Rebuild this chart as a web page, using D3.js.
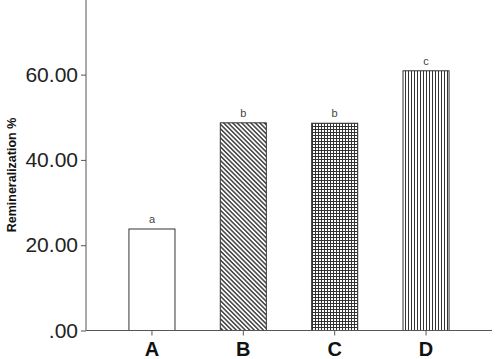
<!DOCTYPE html>
<html>
<head>
<meta charset="utf-8">
<script src="https://cdn.jsdelivr.net/npm/d3@7"></script>
<style>
  body { margin: 0; background: #fff; }
  svg { display: block; font-family: Arial, "Liberation Sans", sans-serif; }
</style>
</head>
<body>
<svg id="vis"></svg>
<script>
var groups = ["A", "B", "C", "D"];
var values = [23.8, 48.7, 48.6, 60.9];
var letters = ["a", "b", "b", "c"];
var yTicks = [0, 20, 40, 60];
var patterns = ["none", "diag", "grid", "vert"];

var width = 498, height = 359;
var plotLeft = 86, plotRight = 492, plotTop = 0, plotBottom = 330.5;

var svg = d3.select("#vis")
    .attr("width", width)
    .attr("height", height);

// hatch fills
var defs = svg.append("defs");

var diag = defs.append("pattern")
    .attr("id", "diag")
    .attr("patternUnits", "userSpaceOnUse")
    .attr("width", 3.2).attr("height", 3.2)
    .attr("patternTransform", "rotate(-45)");
diag.append("rect").attr("width", 3.2).attr("height", 3.2).attr("fill", "#fff");
diag.append("line").attr("x1", 0.8).attr("y1", 0).attr("x2", 0.8).attr("y2", 3.2)
    .attr("stroke", "#222").attr("stroke-width", 1.3);

var grid = defs.append("pattern")
    .attr("id", "grid")
    .attr("patternUnits", "userSpaceOnUse")
    .attr("width", 3).attr("height", 3);
grid.append("rect").attr("width", 3).attr("height", 3).attr("fill", "#fff");
grid.append("path").attr("d", "M0.5,0V3M0,0.5H3")
    .attr("stroke", "#333").attr("stroke-width", 1);

var vert = defs.append("pattern")
    .attr("id", "vert")
    .attr("patternUnits", "userSpaceOnUse")
    .attr("width", 3).attr("height", 3);
vert.append("rect").attr("width", 3).attr("height", 3).attr("fill", "#fff");
vert.append("line").attr("x1", 0.5).attr("y1", 0).attr("x2", 0.5).attr("y2", 3)
    .attr("stroke", "#333").attr("stroke-width", 1);

var x = d3.scaleBand()
    .domain(groups)
    .range([plotLeft, plotRight])
    .paddingInner(0.496)
    .paddingOuter(0.47);

var y = d3.scaleLinear()
    .domain([0, 77.5])
    .range([plotBottom, plotTop]);

// bars
svg.selectAll(".bar")
    .data(groups)
    .enter().append("rect")
    .attr("class", "bar")
    .attr("x", function (d) { return x(d); })
    .attr("y", function (d, i) { return y(values[i]); })
    .attr("width", x.bandwidth())
    .attr("height", function (d, i) { return y(0) - y(values[i]); })
    .attr("fill", function (d, i) {
        return patterns[i] == "none" ? "#fff" : "url(#" + patterns[i] + ")";
    })
    .attr("stroke", "#333")
    .attr("stroke-width", 1);

// significance letters
svg.selectAll(".sig")
    .data(groups)
    .enter().append("text")
    .attr("class", "sig")
    .attr("x", function (d) { return x(d) + x.bandwidth() / 2; })
    .attr("y", function (d, i) { return y(values[i]) - 6; })
    .attr("text-anchor", "middle")
    .style("font-size", "11px")
    .style("fill", "#444")
    .text(function (d, i) { return letters[i]; });

// y axis
var yAxis = d3.axisLeft(y)
    .tickValues(yTicks)
    .tickSize(5)
    .tickPadding(3)
    .tickFormat(function (d) { return d == 0 ? ".00" : d3.format(".2f")(d); });

var gy = svg.append("g")
    .attr("transform", "translate(" + plotLeft + ",0)")
    .call(yAxis);
gy.select(".domain").remove();
gy.append("line")
    .attr("x1", 0).attr("x2", 0)
    .attr("y1", plotTop).attr("y2", plotBottom)
    .attr("stroke", "#555");
gy.selectAll(".tick line").attr("stroke", "#555");
gy.selectAll(".tick text")
    .style("font-size", "21px")
    .style("fill", "#222")
    .attr("font-family", null);

// x axis
var xAxis = d3.axisBottom(x)
    .tickSize(5)
    .tickPadding(6);

var gx = svg.append("g")
    .attr("transform", "translate(0," + plotBottom + ")")
    .call(xAxis);
gx.select(".domain").remove();
gx.append("line")
    .attr("x1", plotLeft).attr("x2", plotRight)
    .attr("y1", 0).attr("y2", 0)
    .attr("stroke", "#555");
gx.selectAll(".tick line").attr("stroke", "#555");
gx.selectAll(".tick text")
    .style("font-size", "20px")
    .style("font-weight", "bold")
    .style("fill", "#111")
    .attr("font-family", null);

// y title
svg.append("text")
    .attr("transform", "translate(16,175) rotate(-90)")
    .attr("text-anchor", "middle")
    .style("font-size", "12.5px")
    .style("font-weight", "bold")
    .style("fill", "#111")
    .text("Remineralization %");
</script>
</body>
</html>
